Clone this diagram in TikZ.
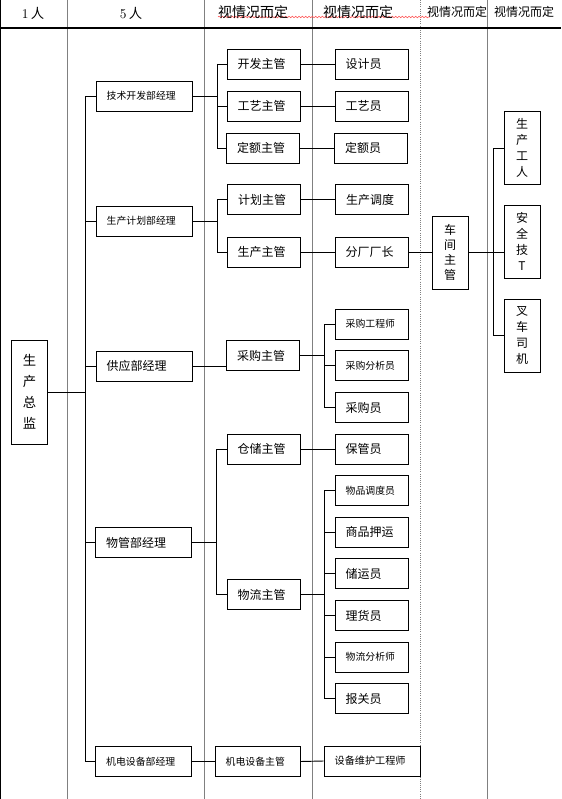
\documentclass[tikz,border=0pt]{standalone}
\usepackage{fontspec}
\newfontfamily\cjk{Noto Sans CJK SC}
\usetikzlibrary{decorations.pathmorphing}

\begin{document}
\begin{tikzpicture}[x=0.75pt,y=-0.75pt,
    box/.style={draw,line width=0.7pt,minimum height=22.5pt,inner xsep=8pt,inner ysep=0pt,
      align=left,text width=#1,font=\cjk\fontsize{9}{11}\selectfont},
    box/.default=38.75pt,
    smalltxt/.style={font=\cjk\fontsize{7.4}{9}\selectfont},
    vbox/.style={draw,line width=0.7pt,minimum width=27pt,minimum height=54.75pt,inner sep=0pt,
      align=center,font=\cjk\fontsize{9}{12}\selectfont},
    conn/.style={line width=0.7pt},
    colline/.style={draw=gray,line width=0.6pt},
    head/.style={font=\cjk\fontsize{10.5}{12}\selectfont}]
  \useasboundingbox (0,0) rectangle (561,799);

  % columns and header
  \foreach \x in {67,204,312,487}
    \draw[colline] (\x,0) -- (\x,799);
  \draw[colline,densely dotted] (420,0) -- (420,799);
  \draw[line width=0.8pt] (0,28) -- (561,28);
  \draw[line width=1.2pt] (0.6,0) -- (0.6,799);
  \draw[red!70,line width=0.4pt,decorate,
    decoration={snake,amplitude=0.6pt,segment length=2.5pt}] (218,17) -- (430,17);

  \node (h1) at (33,13) {\fontsize{10}{12}\selectfont 1\,{\cjk 人}};
  \node (h2) at (131,13) {\fontsize{10}{12}\selectfont 5\,{\cjk 人}};
  \node[head] (h3) at (253,12) {视情况而定};
  \node[head] (h4) at (358,12) {视情况而定};
  \node[head,font=\cjk\fontsize{9}{11}\selectfont] (h5) at (457,12) {视情况而定};
  \node[head,font=\cjk\fontsize{9}{11}\selectfont] (h6) at (524,12) {视情况而定};

  % boxes
  \node[vbox,minimum height=78pt,font=\cjk\fontsize{10}{15.75}\selectfont] (zj) at (29.5,392) {生\\产\\总\\监};

  \node[box=56pt,smalltxt] (js) at (144,96) {技术开发部经理};
  \node[box=56pt,smalltxt] (sj) at (144,221) {生产计划部经理};
  \node[box=56pt] (gy) at (144,366) {供应部经理};
  \node[box=56pt] (wg) at (143.5,542.5) {物管部经理};
  \node[box=56pt,smalltxt] (jd) at (143.5,761.5) {机电设备部经理};

  \node[box] (kf) at (263.5,64) {开发主管};
  \node[box] (gyz) at (263.5,106) {工艺主管};
  \node[box] (de) at (263,148) {定额主管};
  \node[box] (jh) at (264,199.5) {计划主管};
  \node[box] (sc) at (263.5,252) {生产主管};
  \node[box] (cg) at (263,355.5) {采购主管};
  \node[box] (cc) at (263.5,449) {仓储主管};
  \node[box] (wl) at (263.5,594.5) {物流主管};
  \node[box=47.75pt,smalltxt] (jdz) at (257.5,761.5) {机电设备主管};

  \node[box] (sjy) at (371.5,64) {设计员};
  \node[box] (gyy) at (371.5,106) {工艺员};
  \node[box] (dey) at (371,148) {定额员};
  \node[box] (scd) at (372,199.5) {生产调度};
  \node[box] (fc) at (371.5,252) {分厂厂长};
  \node[box,smalltxt] (cgg) at (371.5,324) {采购工程师};
  \node[box,smalltxt] (cgf) at (371.5,365.5) {采购分析员};
  \node[box] (cgy) at (371.5,407.5) {采购员};
  \node[box] (bgy) at (371.5,449) {保管员};
  \node[box,smalltxt] (wpd) at (371.5,490.5) {物品调度员};
  \node[box] (spy) at (371.5,532) {商品押运};
  \node[box] (cyy) at (371.5,573.5) {储运员};
  \node[box] (lhy) at (371.5,615.5) {理货员};
  \node[box,smalltxt] (wlf) at (371.5,657) {物流分析师};
  \node[box] (bgg) at (371.5,698.5) {报关员};
  \node[box=56pt,font=\cjk\fontsize{7.6}{9}\selectfont] (sbw) at (372,761) {设备维护工程师};

  \node[vbox,font=\cjk\fontsize{9}{11.25}\selectfont] (cj) at (450,252.5) {车\\间\\主\\管};

  \node[vbox] (scgr) at (522,148) {生\\产\\工\\人};
  \node[vbox] (aq) at (522,241.5) {安\\全\\技\\T};
  \node[vbox] (cs) at (522,335.5) {叉\\车\\司\\机};

  % connectors
  \coordinate (busA) at (85,0);
  \coordinate (busB) at (217,0);
  \coordinate (busD) at (216,0);
  \coordinate (busE) at (324,0);
  \coordinate (busG) at (493,0);

  \draw[conn] (zj.east) -- (zj.east -| busA);
  \draw[conn] (busA |- js.west) -- (busA |- jd.west);
  \foreach \n in {js,sj,gy,wg,jd}
    \draw[conn] (busA |- \n.west) -- (\n.west);

  \draw[conn] (js.east) -- (js.east -| busB);
  \draw[conn] (busB |- kf.west) -- (busB |- de.west);
  \foreach \n in {kf,gyz,de}
    \draw[conn] (busB |- \n.west) -- (\n.west);

  \draw[conn] (sj.east) -- (sj.east -| busB);
  \draw[conn] (busB |- jh.west) -- (busB |- sc.west);
  \foreach \n in {jh,sc}
    \draw[conn] (busB |- \n.west) -- (\n.west);

  \draw[conn] (gy.east) -- (gy.east -| cg.west);

  \draw[conn] (wg.east) -- (wg.east -| busD);
  \draw[conn] (busD |- cc.west) -- (busD |- wl.west);
  \foreach \n in {cc,wl}
    \draw[conn] (busD |- \n.west) -- (\n.west);

  \draw[conn] (jd.east) -- (jdz.west);

  \draw[conn] (kf.east) -- (sjy.west);
  \draw[conn] (gyz.east) -- (gyy.west);
  \draw[conn] (de.east) -- (dey.west);
  \draw[conn] (jh.east) -- (scd.west);
  \draw[conn] (sc.east) -- (fc.west);
  \draw[conn] (cc.east) -- (bgy.west);
  \draw[conn] (jdz.east) -- (sbw.west);

  \draw[conn] (cg.east) -- (cg.east -| busE);
  \draw[conn] (busE |- cgg.west) -- (busE |- cgy.west);
  \foreach \n in {cgg,cgf,cgy}
    \draw[conn] (busE |- \n.west) -- (\n.west);

  \draw[conn] (wl.east) -- (wl.east -| busE);
  \draw[conn] (busE |- wpd.west) -- (busE |- bgg.west);
  \foreach \n in {wpd,spy,cyy,lhy,wlf,bgg}
    \draw[conn] (busE |- \n.west) -- (\n.west);

  \draw[conn] (fc.east) -- (fc.east -| cj.west);
  \draw[conn] (cj.east) -- (cj.east -| aq.west);
  \draw[conn] (busG |- scgr.west) -- (busG |- cs.west);
  \foreach \n in {scgr,cs}
    \draw[conn] (busG |- \n.west) -- (\n.west);
\end{tikzpicture}
\end{document}
